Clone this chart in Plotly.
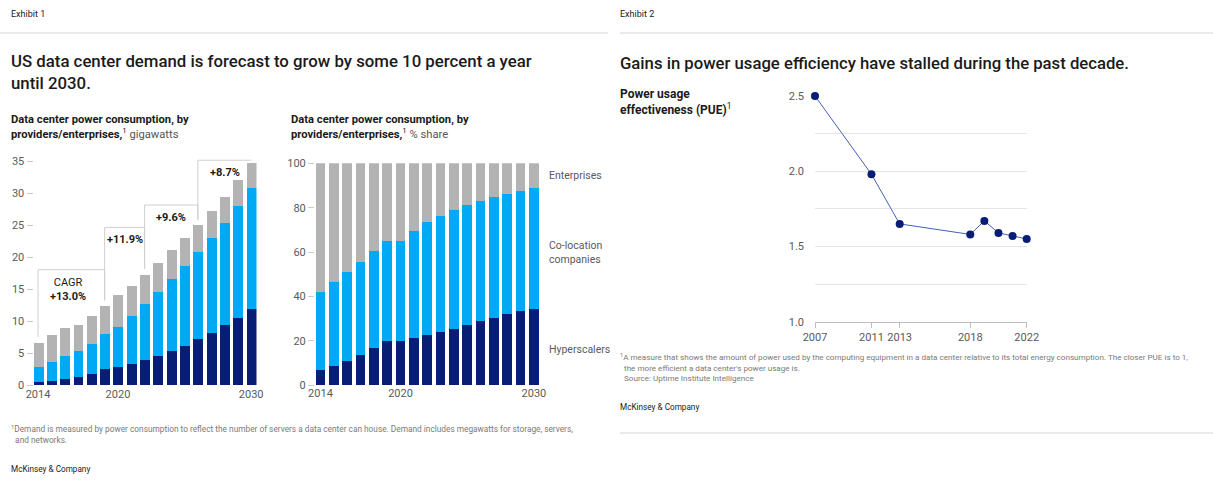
import plotly.graph_objects as go

W, H = 1213, 486

# ---------------- data ----------------
years = list(range(2014, 2031))
# Exhibit 1 left: gigawatts
gw_hyperscalers = [0.5, 0.7, 1.0, 1.3, 1.8, 2.5, 2.9, 3.4, 4.0, 4.6, 5.4, 6.2, 7.2, 8.2, 9.4, 10.6, 12.0]
gw_colocation = [2.4, 2.9, 3.6, 4.0, 4.7, 5.6, 6.2, 7.4, 8.7, 10.0, 11.3, 12.5, 13.6, 14.8, 16.0, 17.4, 18.9]
gw_enterprises = [3.8, 4.2, 4.4, 4.2, 4.3, 4.3, 5.0, 4.8, 4.6, 4.5, 4.4, 4.3, 4.2, 4.2, 4.1, 4.1, 3.9]
# Exhibit 1 right: % share
sh_hyperscalers = [6.9, 8.7, 11.0, 13.5, 16.7, 20.0, 20.0, 21.3, 22.5, 23.9, 25.4, 27.0, 28.7, 30.2, 31.8, 33.2, 34.4]
sh_colocation = [35.0, 37.7, 39.9, 42.1, 43.5, 44.9, 44.9, 47.9, 50.9, 52.4, 53.6, 54.2, 54.3, 54.3, 54.4, 54.2, 54.2]
sh_enterprises = [58.1, 53.6, 49.1, 44.4, 39.8, 35.1, 35.1, 30.8, 26.6, 23.7, 21.0, 18.8, 17.0, 15.5, 13.8, 12.6, 11.4]
# CAGR brackets
cagr_start = [2014, 2019, 2022, 2026]
cagr_end = [2019, 2022, 2026, 2030]
cagr_level = [18.1, 24.7, 28.2, 35.2]
cagr_text = ["CAGR<br><b>+13.0%</b>", "<b>+11.9%</b>", "<b>+9.6%</b>", "<b>+8.7%</b>"]
# Exhibit 2: PUE
pue_years = [2007, 2011, 2013, 2018, 2019, 2020, 2021, 2022]
pue_values = [2.50, 1.98, 1.65, 1.58, 1.67, 1.59, 1.57, 1.55]

left_yticks = [0, 5, 10, 15, 20, 25, 30, 35]
share_yticks = [0, 20, 40, 60, 80, 100]
bar_xticks = [2014, 2020, 2030]
pue_xticks = [2007, 2011, 2013, 2018, 2022]
pue_yticks = [1.0, 1.5, 2.0, 2.5]
pue_ytext = ["1.0", "1.5", "2.0", "2.5"]
pue_minor_grid = [1.25, 1.75, 2.25]

# ---------------- style ----------------
NAVY = "#071e74"
CYAN = "#00a9f4"
GRAY = "#b3b3b3"
TXT = "#1a1a1a"
TICK = "#5a5a5a"
FONT = "Roboto"


def fx(p):
    return p / W


def fy(p):
    return 1 - p / H


fig = go.Figure()

# left stacked bars (gigawatts)
for name, vals, col in [("Hyperscalers", gw_hyperscalers, NAVY),
                        ("Co-location companies", gw_colocation, CYAN),
                        ("Enterprises", gw_enterprises, GRAY)]:
    fig.add_trace(go.Bar(x=years, y=vals, name=name, marker=dict(color=col, line=dict(width=0)),
                         width=0.75, xaxis="x", yaxis="y", showlegend=False))

# brackets
for i in range(len(cagr_start)):
    s, e, lv = cagr_start[i], cagr_end[i], cagr_level[i]
    ts = sum(v[years.index(s)] for v in (gw_hyperscalers, gw_colocation, gw_enterprises))
    te = sum(v[years.index(e)] for v in (gw_hyperscalers, gw_colocation, gw_enterprises))
    xs = [s, s, e]
    ys = [ts + 0.9, lv, lv]
    if e != years[-1]:
        xs.append(e)
        ys.append(te + 0.9)
    fig.add_trace(go.Scatter(x=xs, y=ys, mode="lines", line=dict(color="#cfcfcf", width=1),
                             xaxis="x", yaxis="y", showlegend=False, hoverinfo="skip"))
    fig.add_annotation(x=(s + e) / 2 - (0.25 if i == 0 else 0), y=lv, xref="x", yref="y",
                       yanchor="top", yshift=-4, text=cagr_text[i], showarrow=False,
                       font=dict(family=FONT, size=11, color=TXT), align="center")

# right stacked bars (% share)
for name, vals, col in [("Hyperscalers", sh_hyperscalers, NAVY),
                        ("Co-location companies", sh_colocation, CYAN),
                        ("Enterprises", sh_enterprises, GRAY)]:
    fig.add_trace(go.Bar(x=years, y=vals, name=name, marker=dict(color=col, line=dict(width=0)),
                         width=0.72, xaxis="x2", yaxis="y2", showlegend=False))

# PUE line
fig.add_trace(go.Scatter(x=pue_years, y=pue_values, mode="lines+markers",
                         line=dict(color="#4660b8", width=1),
                         marker=dict(color=NAVY, size=8),
                         xaxis="x3", yaxis="y3", showlegend=False, cliponaxis=False))

tickfont = dict(family=FONT, size=11, color=TICK)

fig.update_layout(
    width=W, height=H, margin=dict(l=0, r=0, t=0, b=0, autoexpand=False),
    paper_bgcolor="white", plot_bgcolor="white",
    barmode="stack", bargap=0, showlegend=False,
    font=dict(family=FONT),
    xaxis=dict(domain=[fx(33.5), fx(256.5)], range=[2013.66, 2030.4], tickvals=bar_xticks,
               ticks="", showgrid=False, zeroline=False, automargin=False,
               tickfont=tickfont, showline=False),
    yaxis=dict(domain=[fy(385.5), fy(155.1)], range=[0, 36], tickvals=left_yticks,
               ticks="outside", ticklen=6, tickcolor="#cccccc", showgrid=False, zeroline=False,
               automargin=False, tickfont=tickfont, showline=False),
    xaxis2=dict(domain=[fx(315), fx(539)], range=[2013.59, 2030.38], tickvals=bar_xticks,
                ticks="", showgrid=False, zeroline=False, automargin=False,
                tickfont=tickfont, anchor="y2"),
    yaxis2=dict(domain=[fy(385.3), fy(163.3)], range=[0, 100], tickvals=share_yticks,
                ticks="outside", ticklen=6, tickcolor="#cccccc", showgrid=False, zeroline=False,
                automargin=False, tickfont=tickfont, anchor="x2"),
    xaxis3=dict(domain=[fx(815), fx(1026.7)], range=[2007, 2022], tickvals=pue_xticks,
                ticks="outside", ticklen=5, tickcolor="#bdbdbd", showline=True, linecolor="#bdbdbd",
                linewidth=1, showgrid=False, zeroline=False, automargin=False,
                tickfont=tickfont, anchor="y3"),
    yaxis3=dict(domain=[fy(321.7), fy(96)], range=[1, 2.5], tickvals=pue_yticks, ticktext=pue_ytext,
                showgrid=True, gridcolor="#e6e6e6", gridwidth=1, zeroline=False, ticks="",
                minor=dict(tickvals=pue_minor_grid, showgrid=True, gridcolor="#e6e6e6", gridwidth=1,
                           ticks=""),
                ticklabelstandoff=10, automargin=False, tickfont=tickfont, anchor="x3"),
)

# separator lines
for x0, x1, y in [(0, 608, 33), (620, 1213, 33), (620, 1213, 433)]:
    fig.add_shape(type="line", xref="paper", yref="paper", x0=fx(x0), x1=fx(x1), y0=fy(y), y1=fy(y),
                  line=dict(color="#d4d4d4", width=1))


def txt(x, y, text, size, color=TXT, weight=None, yanchor="middle", xanchor="left"):
    f = dict(family=FONT, size=size, color=color)
    if weight:
        f["weight"] = weight
    fig.add_annotation(x=fx(x), y=fy(y), xref="paper", yref="paper", text=text, showarrow=False,
                       xanchor=xanchor, yanchor=yanchor, align="left", font=f)


txt(9, 14, "Exhibit 1", 9)
txt(618, 14, "Exhibit 2", 9)
txt(9, 71.5, "US data center demand is forecast to grow by some 10 percent a year<br>until 2030.", 16.8,
    weight=500)
txt(618, 63, "Gains in power usage efficiency have stalled during the past decade.", 16.7, weight=500)
txt(9, 127, "<b>Data center power consumption, by<br>providers/enterprises,</b><sup>1</sup> "
    "<span style='color:#555'>gigawatts</span>", 11.2)
txt(289, 127, "<b>Data center power consumption, by<br>providers/enterprises,</b><sup>1</sup> "
    "<span style='color:#555'>% share</span>", 11.2)
txt(618, 102, "<b>Power usage<br>effectiveness (PUE)</b><sup>1</sup>", 12)

txt(547, 175, "Enterprises", 10.5, color=TICK)
txt(547, 252, "Co-location<br>companies", 10.5, color=TICK)
txt(547, 349, "Hyperscalers", 10.5, color=TICK)

txt(9, 434, "<sup>1</sup>Demand is measured by power consumption to reflect the number of servers a data center "
    "can house. Demand includes megawatts for storage, servers,<br>  and networks.", 8.3, color="#7a7a7a")
txt(9, 469, "McKinsey & Company", 8.2)
txt(618, 367, "<sup>1</sup>A measure that shows the amount of power used by the computing equipment in a data "
    "center relative to its total energy consumption. The closer PUE is to 1,<br>  the more efficient a data "
    "center's power usage is.<br>  Source: Uptime Institute Intelligence", 8.1, color="#7a7a7a")
txt(618, 407, "McKinsey & Company", 8.2)

fig.write_html("out.html")
